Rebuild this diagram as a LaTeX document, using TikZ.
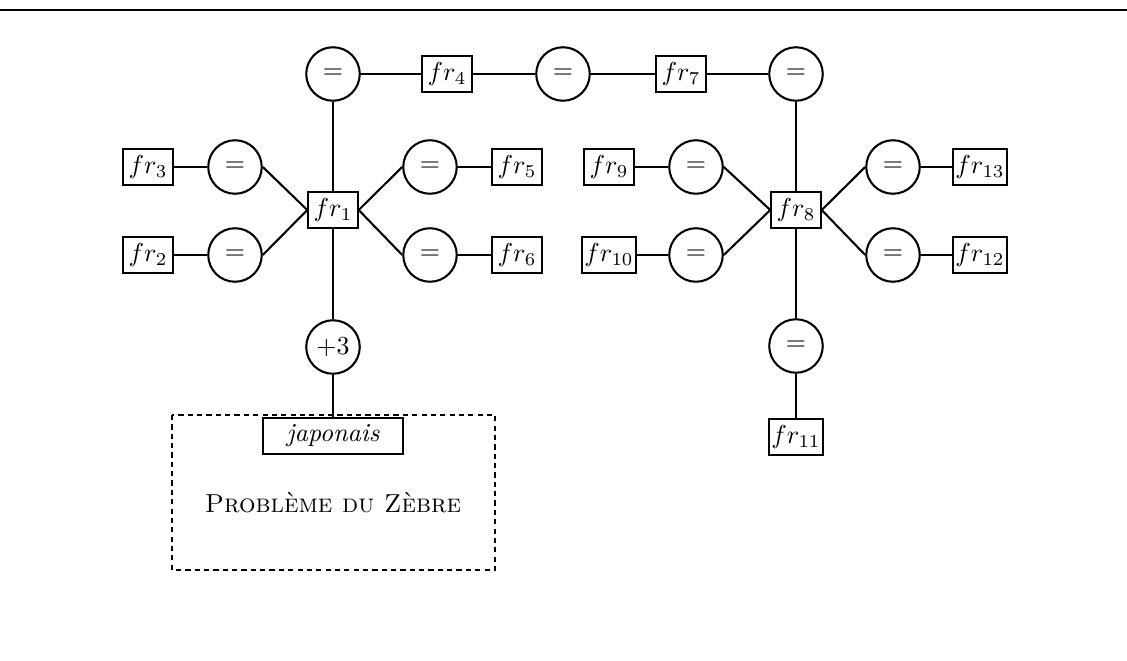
\documentclass[tikz,border=0pt]{standalone}
\begin{document}
\begin{tikzpicture}
[x=0.385pt,y=-0.385pt,line width=0.8pt,
 eq/.style={circle,draw,minimum size=20.6pt,inner sep=0pt},
 fr/.style={rectangle,draw,minimum width=19pt,minimum height=14pt,inner sep=1pt}]
\useasboundingbox (0,0) rectangle (1127,661);
\draw[line width=1.1pt] (0,10) -- (1127,10);
% top row
\node[eq] (c1) at (333,74) {$=$};
\node[fr] (fr4) at (447,74) {$fr_4$};
\node[eq] (c2) at (563,74) {$=$};
\node[fr] (fr7) at (681,74) {$fr_7$};
\node[eq] (c3) at (796,74) {$=$};
% left star
\node[fr] (fr1) at (333,210) {$fr_1$};
\node[fr] (fr3) at (148,167) {$fr_3$};
\node[eq] (e3) at (235,167) {$=$};
\node[fr] (fr2) at (148,255) {$fr_2$};
\node[eq] (e2) at (235,255) {$=$};
\node[eq] (e5) at (430,167) {$=$};
\node[fr] (fr5) at (517,167) {$fr_5$};
\node[eq] (e6) at (430,255) {$=$};
\node[fr] (fr6) at (517,255) {$fr_6$};
\node[eq] (p3) at (333,347) {$+3$};
\node[fr,minimum width=54pt] (jap) at (333,436) {\itshape japonais};
% right star
\node[fr] (fr8) at (796,210) {$fr_8$};
\node[fr] (fr9) at (609,167) {$fr_9$};
\node[eq] (e9) at (696,167) {$=$};
\node[fr] (fr10) at (609,255) {$fr_{10}$};
\node[eq] (e10) at (696,255) {$=$};
\node[eq] (e13) at (893,167) {$=$};
\node[fr] (fr13) at (980,167) {$fr_{13}$};
\node[eq] (e12) at (893,255) {$=$};
\node[fr] (fr12) at (980,255) {$fr_{12}$};
\node[eq] (e11) at (796,346) {$=$};
\node[fr] (fr11) at (796,437) {$fr_{11}$};
% zebra frame
\draw[line width=0.9pt,dash pattern=on 2pt off 1.6pt] (172,415) rectangle (495,570);
\node (zebre) at (333,503) {\textsc{Problème du Zèbre}};
\foreach \from/\to in {c1/fr4,fr4/c2,c2/fr7,fr7/c3,c1/fr1,c3/fr8,
  fr3/e3,fr2/e2,e5/fr5,e6/fr6,fr1/p3,p3/jap,
  fr9/e9,fr10/e10,e13/fr13,e12/fr12,fr8/e11,e11/fr11,
  e3.east/fr1.west,e2.east/fr1.west,fr1.east/e5.west,fr1.east/e6.west,
  e9.east/fr8.west,e10.east/fr8.west,fr8.east/e13.west,fr8.east/e12.west}
\draw (\from) -- (\to);
\end{tikzpicture}
\end{document}
